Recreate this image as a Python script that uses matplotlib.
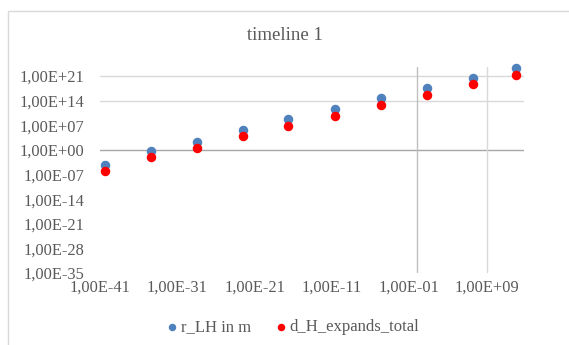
import matplotlib
matplotlib.use("Agg")
import matplotlib.pyplot as plt
from matplotlib.ticker import FixedLocator, FuncFormatter, NullLocator
from matplotlib.patches import Rectangle

# exponents (log10 of the values)
x_exp = [-40.35, -34.4, -28.45, -22.5, -16.7, -10.6, -4.65, 1.3, 7.25, 12.8]
r_LH_exp = [-4.4, -0.4, 2.4, 5.6, 8.7, 11.6, 14.7, 17.6, 20.4, 23.3]
d_H_exp = [-5.9, -2.1, 0.7, 3.9, 6.7, 9.6, 12.7, 15.6, 18.7, 21.3]

xtick_exp = [-41, -31, -21, -11, -1, 9]
ytick_exp = [-35, -28, -21, -14, -7, 0, 7, 14, 21]

x_vals = [10.0 ** e for e in x_exp]
r_LH = [10.0 ** e for e in r_LH_exp]
d_H = [10.0 ** e for e in d_H_exp]

plt.rcParams['font.family'] = ['Liberation Serif', 'DejaVu Serif']
txt = '#595959'

def sci(v, pos=None):
    import math
    e = int(round(math.log10(v)))
    return "1,00E%s%02d" % ('+' if e >= 0 else '-', abs(e))

fig = plt.figure(figsize=(5.69, 3.45), dpi=100)
fig.patches.append(Rectangle((8 / 569, -0.1), 1.2, 1 - 11 / 345 + 0.1,
                             transform=fig.transFigure, fill=False,
                             edgecolor='#d9d9d9', linewidth=1))
ax = fig.add_axes([100 / 569, 1 - 273 / 345, 424 / 569, 206 / 345])
ax.set_xscale('log')
ax.set_yscale('log')
ax.set_xlim(1e-41, 10 ** 13.8)
ax.set_ylim(1e-35, 10 ** 23.6)

# gridlines as they appear in the chart
for e in [14, 21]:
    ax.axhline(10.0 ** e, color='#d9d9d9', lw=1, zorder=1)
ax.axhline(1.0, color='#a6a6a6', lw=1, zorder=1)
ax.axvline(1.0, color='#bfbfbf', lw=1, zorder=1)
ax.axvline(1e9, color='#d9d9d9', lw=1, zorder=1)

ax.scatter(x_vals, r_LH, s=34, color='#4f81bd', label='r_LH in m', zorder=3, clip_on=False)
ax.scatter(x_vals, d_H, s=34, color='#ff0000', label='d_H_expands_total', zorder=3, clip_on=False)

ax.xaxis.set_major_locator(FixedLocator([10.0 ** e for e in xtick_exp]))
ax.yaxis.set_major_locator(FixedLocator([10.0 ** e for e in ytick_exp]))
ax.xaxis.set_minor_locator(NullLocator())
ax.yaxis.set_minor_locator(NullLocator())
ax.xaxis.set_major_formatter(FuncFormatter(sci))
ax.yaxis.set_major_formatter(FuncFormatter(sci))
ax.tick_params(length=0, labelsize=11.8, colors=txt)
ax.tick_params(axis='y', pad=11)
ax.tick_params(axis='x', pad=5)
for s in ax.spines.values():
    s.set_visible(False)

fig.text(0.5, 1 - 35 / 345, 'timeline 1', ha='center', va='center', fontsize=13.5, color=txt)
leg = fig.legend(loc='center', bbox_to_anchor=(0.5 + 7 / 569, 1 - 327 / 345), ncol=2, frameon=False,
                 fontsize=12, handletextpad=0.0, columnspacing=1.3, markerscale=0.75,
                 handlelength=1.0)
for t in leg.get_texts():
    t.set_color(txt)

fig.savefig('out.png', dpi=100)
